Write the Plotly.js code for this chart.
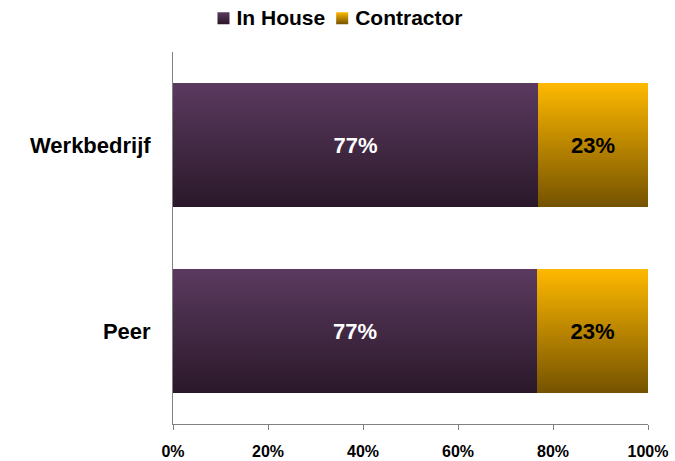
<!DOCTYPE html>
<html>
<head>
<meta charset="utf-8">
<script src="https://cdn.plot.ly/plotly-3.0.1.min.js"></script>
<style>
  html, body { margin: 0; padding: 0; background: #ffffff; }
  #chart { width: 675px; height: 461px; }
</style>
</head>
<body>
<div id="chart"></div>
<script>
// ---- data ----
var categories = ['Peer', 'Werkbedrijf'];
var seriesNames = ['In House', 'Contractor'];
var inHouse = [76.6, 76.9];
var contractor = [23.4, 23.1];
var xTickValues = [0, 20, 40, 60, 80, 100];
var xTickLabels = ['0%', '20%', '40%', '60%', '80%', '100%'];

var FONT = 'Liberation Sans, Arial, sans-serif';

var data = [
  {
    type: 'bar', orientation: 'h', name: seriesNames[0],
    y: categories, x: inHouse,
    marker: { color: '#45294a', line: { width: 0 } },
    texttemplate: '%{x:.0f}%', textposition: 'inside', insidetextanchor: 'middle',
    textangle: 0, constraintext: 'none',
    insidetextfont: { family: FONT, size: 22, color: '#ffffff', weight: 'bold' },
    hoverinfo: 'skip'
  },
  {
    type: 'bar', orientation: 'h', name: seriesNames[1],
    y: categories, x: contractor,
    marker: { color: '#bf8a00', line: { width: 0 } },
    texttemplate: '%{x:.0f}%', textposition: 'inside', insidetextanchor: 'middle',
    textangle: 0, constraintext: 'none',
    insidetextfont: { family: FONT, size: 22, color: '#000000', weight: 'bold' },
    hoverinfo: 'skip'
  }
];

var layout = {
  width: 675, height: 461,
  paper_bgcolor: '#ffffff', plot_bgcolor: '#ffffff',
  font: { family: FONT, color: '#000000' },
  margin: { l: 173, r: 27, t: 52, b: 37, pad: 0 },
  barmode: 'stack',
  bargap: 0.33,
  showlegend: true,
  legend: {
    orientation: 'h', traceorder: 'normal',
    xref: 'container', yref: 'container',
    x: 0.5, xanchor: 'center', y: 1, yanchor: 'top',
    font: { family: FONT, size: 21, color: '#000000', weight: 'bold' },
    itemwidth: 30, bgcolor: 'rgba(0,0,0,0)'
  },
  xaxis: {
    range: [0, 100], fixedrange: true,
    tickmode: 'array', tickvals: xTickValues, ticktext: xTickLabels,
    showgrid: false, zeroline: false,
    showline: true, linecolor: '#808080', linewidth: 1,
    ticks: 'outside', ticklen: 5, tickcolor: '#808080', tickwidth: 1,
    ticklabelstandoff: 8,
    tickfont: { family: FONT, size: 16, color: '#000000', weight: 'bold' }
  },
  yaxis: {
    type: 'category', categoryorder: 'array', categoryarray: categories,
    fixedrange: true,
    showgrid: false, zeroline: false,
    showline: true, linecolor: '#808080', linewidth: 1,
    ticks: '', ticklabelstandoff: 17,
    tickfont: { family: FONT, size: 22, color: '#000000', weight: 'bold' }
  }
};

var gradients = [
  ['#5b3a60', '#2a1829'],
  ['#ffb900', '#745200']
];

function parseTranslate(el) {
  var t = el.getAttribute('transform') || '';
  var m = /translate\(\s*([-\d.e]+)[ ,]*([-\d.e]*)\s*\)/.exec(t);
  return m ? [parseFloat(m[1]), parseFloat(m[2] || 0)] : [0, 0];
}

function applyGradients(gd) {
  var svg = gd.querySelector('svg.main-svg');
  if (!svg) return;
  var defs = svg.querySelector('defs');
  var ns = 'http://www.w3.org/2000/svg';
  if (!defs) { defs = document.createElementNS(ns, 'defs'); svg.insertBefore(defs, svg.firstChild); }
  gradients.forEach(function (g, i) {
    var lg = document.createElementNS(ns, 'linearGradient');
    lg.setAttribute('id', 'barGrad' + i);
    lg.setAttribute('x1', '0'); lg.setAttribute('y1', '0');
    lg.setAttribute('x2', '0'); lg.setAttribute('y2', '1');
    var s1 = document.createElementNS(ns, 'stop');
    s1.setAttribute('offset', '0'); s1.setAttribute('stop-color', g[0]);
    var s2 = document.createElementNS(ns, 'stop');
    s2.setAttribute('offset', '1'); s2.setAttribute('stop-color', g[1]);
    lg.appendChild(s1); lg.appendChild(s2);
    defs.appendChild(lg);
  });
  gd.querySelectorAll('.barlayer .trace').forEach(function (tr, i) {
    tr.querySelectorAll('.point path').forEach(function (p) {
      p.style.fill = 'url(#barGrad' + i + ')';
    });
  });
  var legTraces = gd.querySelectorAll('.legend .traces');
  var box = gd.getBoundingClientRect();
  var cursor = null;
  legTraces.forEach(function (tr, i) {
    tr.querySelectorAll('.legendpoints path').forEach(function (p) {
      p.style.fill = 'url(#barGrad' + i + ')';
    });
    var txt = tr.querySelector('.legendtext');
    var sw = tr.querySelector('.legendpoints path');
    if (!txt || !sw) return;
    var sr = sw.getBoundingClientRect();
    var trr = txt.getBoundingClientRect();
    txt.setAttribute('transform', 'translate(' + ((sr.right + 7) - trr.left) + ',-1)');
    if (cursor !== null) {
      var shift = (cursor + 11) - sr.left;
      var p0 = parseTranslate(tr);
      tr.setAttribute('transform', 'translate(' + (p0[0] + shift) + ',' + p0[1] + ')');
    }
    cursor = txt.getBoundingClientRect().right;
  });
  var legend = gd.querySelector('.legend');
  if (legend && legTraces.length) {
    var first = legTraces[0].querySelector('.legendpoints path').getBoundingClientRect();
    var lastT = legTraces[legTraces.length - 1].querySelector('.legendtext').getBoundingClientRect();
    var center = ((first.left + lastT.right) / 2) - box.left;
    var lp = parseTranslate(legend);
    legend.setAttribute('transform', 'translate(' + (lp[0] + (340 - center)) + ',' + (lp[1] - 2) + ')');
  }
}

var gd = document.getElementById('chart');
Plotly.newPlot(gd, data, layout, { staticPlot: true, displayModeBar: false })
  .then(function () { applyGradients(gd); });
</script>
</body>
</html>
